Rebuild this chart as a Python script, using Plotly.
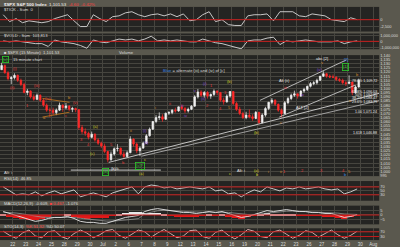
import plotly.graph_objects as go
from plotly.subplots import make_subplots

W, H = 400, 247

# ---------------- data ----------------
day_labels = ["21", "22", "23", "24", "25", "28", "29", "30", "Jul", "2", "6", "7", "8", "9",
              "12", "13", "14", "15", "16", "19", "20", "21", "22", "23", "26", "27", "28", "29",
              "30", "Aug"]

first_open = 1122.8
closes = [
    1128, 1119, 1112, 1113.2,
    1116, 1110, 1105, 1095.3,
    1097, 1090, 1087, 1092,
    1086, 1080, 1074, 1073.7,
    1071, 1074, 1080, 1076.8,
    1079, 1075, 1076, 1074.6,
    1053, 1048, 1046, 1041.2,
    1045, 1038, 1034, 1030.7,
    1024, 1014, 1021, 1027.4,
    1028, 1021, 1018, 1022.6,
    1039, 1033, 1025, 1028.1,
    1034, 1043, 1051, 1060.3,
    1065, 1066, 1063, 1070.3,
    1071, 1074, 1073, 1078,
    1076, 1073, 1075, 1078.8,
    1090, 1096, 1092, 1095.3,
    1091, 1093, 1097, 1095.2,
    1086, 1084, 1091, 1096.5,
    1082, 1075, 1070, 1064.9,
    1068, 1066, 1064, 1071.3,
    1059, 1068, 1076, 1083.5,
    1086, 1081, 1074, 1069.6,
    1083, 1088, 1092, 1093.7,
    1091, 1097, 1099, 1102.7,
    1106, 1107, 1110, 1115,
    1118, 1115, 1114, 1113.8,
    1111, 1110, 1107, 1106.1,
    1108, 1095, 1102, 1110,
]
highs = [
    1131.2, 1129, 1121, 1115,
    1118.5, 1117, 1112, 1107,
    1099.6, 1098, 1093, 1094,
    1093, 1088, 1082, 1077,
    1077, 1076, 1083.1, 1081,
    1082.6, 1080, 1078, 1077,
    1075, 1056, 1052, 1048,
    1048.1, 1046, 1040, 1036,
    1033.6, 1025, 1024, 1029,
    1032.9, 1029, 1024, 1025,
    1042.5, 1040, 1035, 1030,
    1036, 1045, 1053, 1060.9,
    1068, 1071.3, 1069, 1071,
    1073, 1075, 1077, 1078.2,
    1080.8, 1078, 1077, 1080,
    1092, 1099.5, 1098, 1097,
    1097, 1094, 1099.1, 1098,
    1096, 1089, 1093, 1096.9,
    1097, 1084, 1078, 1072,
    1072, 1074.7, 1069, 1073,
    1072, 1070, 1078, 1083.9,
    1088.6, 1087, 1082, 1076,
    1085, 1090, 1094, 1097.5,
    1094, 1098, 1101, 1103.7,
    1108, 1109, 1112, 1115,
    1121, 1119, 1117, 1117,
    1114.7, 1113, 1112, 1109,
    1116, 1108, 1104, 1112,
]
lows = [
    1122.5, 1118, 1110, 1105.5,
    1111, 1108, 1103, 1094.2,
    1092, 1088, 1085.3, 1086,
    1084, 1078, 1072, 1065.6,
    1068, 1067.9, 1073, 1072,
    1075, 1073, 1071.5, 1071.5,
    1050, 1045, 1043, 1038.6,
    1040, 1036, 1032, 1028.3,
    1022, 1010.9, 1013, 1019,
    1024, 1019, 1015.9, 1017,
    1022, 1030, 1022, 1018.4,
    1028, 1033, 1042, 1050,
    1058.2, 1062, 1060, 1062,
    1068, 1069, 1071, 1072,
    1074, 1070.4, 1071, 1074,
    1078, 1088, 1090, 1089,
    1088, 1087.7, 1091, 1092,
    1084, 1080.6, 1083, 1089,
    1080, 1073, 1068, 1063.3,
    1063, 1064, 1061.1, 1063,
    1056.9, 1058, 1066, 1074,
    1081, 1079, 1072, 1065.3,
    1069.6, 1081, 1086, 1090,
    1087.9, 1090, 1095, 1097,
    1101.3, 1104, 1105, 1109,
    1114, 1113, 1112.6, 1112.6,
    1109, 1108, 1105, 1103.1,
    1106, 1092, 1094, 1101,
]

tick_sum = [1800, -700, 400, -1100, -400, -700, -1100, -700, 400, 1100,
            1800, -400, -2500, -2500, 1800, 400, -700, 1100, 1400, 2500,
            2900, 1800, 1100, 1800, 2100, 1400, 2100, 1100, 2100, -400,
            0, 1800, 2900, -700, 0, -1800, -2100, -2100, 1400, 1800,
            1800, 2100, -400, 2900, 2900, 2900, 1400, 1100, 2100, 1800,
            1400, 0, -400, -700, 700, 0]
vold_sum = [0.08, -0.08, 0.08, -0.08, -0.23, -0.38, -0.38, -0.85, 0.23, -0.08,
            -0.23, -0.38, -0.69, -1.15, 0.23, -0.08, -0.23, 0.08, 0.38, 0.23,
            0.38, 0.08, 0.38, 0.85, 0.08, 0.23, 0.08, 0.23, 0.08, -0.08,
            -0.08, 0.38, 0.08, -0.23, -0.38, -0.69, -1.0, -1.25, 0.08, 0.23,
            0.23, 0.54, 0.69, -0.54, 0.08, -0.08, 0.08, 0.23, 0.08, -0.08,
            -0.08, -0.08, 0.08, -0.38, -0.08, 0.08]
rsi = [70, 50, 30, 35, 30, 45, 25, 40, 50, 35,
       45, 55, 20, 30, 40, 30, 20, 40, 50, 60,
       70, 35, 70, 80, 75, 65, 70, 60, 65, 70,
       65, 60, 70, 50, 55, 35, 40, 20, 40, 55,
       45, 70, 60, 50, 65, 60, 70, 60, 65, 70,
       60, 55, 60, 35, 45, 60]
macd = [3.7, 1.6, -0.5, -2.6, -4.7, -6.8, -5.8, -3.7, -2.6, -2.6,
        -1.6, -3.7, -6.8, -7.9, -7.9, -8.9, -8.9, -6.8, -4.7, -2.6,
        -1.6, -0.5, 3.7, 5.8, 6.8, 5.8, 4.7, 3.7, 2.6, 2.6,
        1.6, 2.6, 3.7, 2.6, 3.7, 1.6, -0.5, -2.6, -1.6, 0.5,
        2.6, 4.7, 3.7, 4.7, 5.8, 4.7, 3.7, 3.7, 2.6, 2.6,
        1.6, 1.6, -0.5, -2.6, -1.6, 0.5]
macd_signal = [3.0, 2.8, 2.1, 1.2, 0.0, -1.4, -2.3, -2.6, -2.6, -2.6,
               -2.4, -2.7, -3.5, -4.4, -5.1, -5.9, -6.5, -6.6, -6.2, -5.5,
               -4.7, -3.9, 1.2, 3.0, 4.5, 5.0, 4.9, 4.5, 3.9, 3.5,
               3.0, 2.9, 3.1, 3.0, 3.2, 2.8, 2.0, 1.1, 0.6, 0.6,
               1.3, 2.4, 2.8, 3.4, 4.0, 4.2, 3.9, 3.8, 3.3, 3.2,
               2.9, 2.6, 2.0, 1.1, 0.6, 0.6]
stoch = [75, 40, 15, 60, 85, 35, 20, 70, 80, 30,
         10, 55, 85, 60, 20, 45, 80, 90, 40, 15,
         50, 85, 70, 25, 60, 90, 55, 20, 35, 80,
         85, 30, 15, 65, 85, 40, 10, 45, 90, 75,
         30, 20, 70, 85, 50, 15, 40, 80, 65, 25,
         55, 85, 45, 15, 40, 75]

# trendlines drawn on the price panel: (day0, price0, day1, price1, colour)
trendlines = [
    (8.45, 1010.9, 29.46, 1094.3, "#e8e8e8"),
    (11.0, 1018.4, 29.46, 1085.5, "#bdbdbd"),
    (20.2, 1085.8, 26.9, 1134.5, "#d8d8d8"),
    (21.7, 1065.6, 27.6, 1104.2, "#d8d8d8"),
    (5.5, 1001.6, 12.5, 1001.6, "#f0f0f0"),
    (3.3, 1088.1, 5.4, 1083.4, "#c87a1e"),
    (3.3, 1065.6, 5.4, 1071.5, "#c87a1e"),
]

# wave-count labels: (day, price, text, colour)
RED, ORG, PUR, YEL, GRN, BLU, WHT = "#e03a3a", "#d8862a", "#8a4ad0", "#d0c828", "#2cc82c", "#3a86e0", "#e6e6e6"
wave_labels = [
    (1.15, 1123.8, "(i)", RED), (1.0, 1101.2, "(ii)", RED), (2.85, 1103.6, "(iii)", RED),
    (3.7, 1088.1, "(iv)", RED), (2.15, 1079.8, "1", RED), (3.45, 1065.6, "a", ORG),
    (5.4, 1089.3, "b", ORG), (5.9, 1083.4, "(v)", RED), (5.15, 1068.0, "c", RED),
    (12.1, 1077.4, "i", ORG), (13.2, 1082.2, "ii", RED), (14.2, 1079.8, "iii", PUR),
    (14.4, 1068.0, "iv", PUR), (15.15, 1097.6, "v", PUR), (15.9, 1106.0, "(i)", PUR),
    (16.4, 1103.6, "1", RED), (17.9, 1108.3, "(b)", YEL), (17.5, 1095.3, "3", RED),
    (15.8, 1088.1, "(ii)", PUR), (16.15, 1079.8, "2", RED), (17.15, 1076.3, "4", RED),
    (17.85, 1077.4, "5", ORG), (22.15, 1101.2, "iii", RED), (23.5, 1092.9, "iv", PUR),
    (22.1, 1109.5, "Alt (ii)", WHT), (25.0, 1136.0, "abc [2]", WHT), (25.0, 1130.9, "v", ORG),
    (24.85, 1122.6, "(v)", PUR), (26.9, 1135.0, "[2]", BLU), (27.8, 1116.8, "b", ORG),
    (27.2, 1085.8, "a", ORG), (23.5, 1077.5, "ALT [2]", WHT), (21.8, 1059.6, "c", ORG),
    (6.3, 1038.3, "3", RED), (6.9, 1032.3, "4", RED), (7.45, 1053.7, "(a)", YEL),
    (7.15, 1021.6, "(c)", YEL), (8.7, 1032.3, "5", RED), (9.6, 1010.9, "b", RED),
    (10.15, 1048.9, "ii", ORG), (11.3, 1048.9, "(i)", PUR), (11.4, 1034.7, "(ii)", PUR),
    (11.3, 1013.8, "c", YEL), (8.9, 1003.8, "(b)/c", WHT), (11.0, 997.9, "(a)", YEL),
    (17.9, 997.9, "c", YEL), (18.7, 1001.4, "Alt: i", WHT), (20.0, 1001.4, "(a)", YEL),
    (20.0, 996.7, "b", YEL), (20.9, 1000.3, "i", ORG), (21.8, 1000.3, "ii", ORG),
    (22.1, 1000.3, "1", RED), (23.5, 1001.4, "2", RED), (25.0, 1001.4, "3", RED),
    (26.7, 1001.4, "4", RED), (27.15, 1000.3, "5", ORG), (26.85, 996.7, "b", BLU),
    (20.0, 1046.6, "(b)", YEL),
]
boxed_labels = [  # green boxed wave degrees: (day, price, text)
    (8.2, 999.5, "[b]"), (10.9, 1006.2, "[c]?"), (26.85, 1126.1, "[1]"),
]
fib_labels = [
    (1109.5, "78.6% 1,109.72"), (1095.3, "61.8% 1,096.03"), (1091.7, "50% 1,092.25"),
    (1088.2, "38.2% 1,088.47"), (1083.4, "23.6% 1,083.79"), (1071.5, "1.00 1,071.24"),
    (1046.6, "1.618 1,046.88"),
]

# ---------------- layout helpers ----------------
bar_x = [i * 0.25 + 0.125 for i in range(len(closes))]
opens = [first_open] + closes[:-1]
osc_x = [i * 0.5 + 0.25 for i in range(len(rsi))]
hist = [round(m - s, 2) for m, s in zip(macd, macd_signal)]

PAPER = "#5a584e"
PLOT = "#242422"
GRID = "#46453f"
REDLINE = "#c41a1a"
LBL = "#dcdcdc"
FONT = "Liberation Sans"

fig = make_subplots(rows=6, cols=1, shared_xaxes=True)

fig.add_trace(go.Scatter(x=osc_x, y=tick_sum, mode="lines",
                         line=dict(color="#d8d8d8", width=0.9)), row=1, col=1)
fig.add_trace(go.Scatter(x=osc_x, y=vold_sum, mode="lines",
                         line=dict(color="#d8d8d8", width=0.9)), row=2, col=1)
fig.add_trace(go.Candlestick(x=bar_x, open=opens, high=highs, low=lows, close=closes,
                             increasing=dict(line=dict(color="#f2f2f2", width=0.7), fillcolor="#f2f2f2"),
                             decreasing=dict(line=dict(color="#ff2a2a", width=0.7), fillcolor="#ff2a2a"),
                             whiskerwidth=0), row=3, col=1)
fig.add_trace(go.Scatter(x=osc_x, y=rsi, mode="lines",
                         line=dict(color="#d8d8d8", width=0.9)), row=4, col=1)
fig.add_trace(go.Bar(x=osc_x, y=hist, width=0.5,
                     marker=dict(color=["#e01818" if h < 0 else "#e8e8e8" for h in hist], line_width=0)),
              row=5, col=1)
fig.add_trace(go.Scatter(x=osc_x, y=macd_signal, mode="lines",
                         line=dict(color="#a0a0a0", width=0.7)), row=5, col=1)
fig.add_trace(go.Scatter(x=osc_x, y=macd, mode="lines",
                         line=dict(color="#e8e8e8", width=0.9)), row=5, col=1)
fig.add_trace(go.Scatter(x=osc_x, y=stoch, mode="lines",
                         line=dict(color="#e6b8b8", width=0.9)), row=6, col=1)

# reference levels
fig.add_hline(y=0, row=1, col=1, line=dict(color=REDLINE, width=1))
fig.add_hline(y=0, row=2, col=1, line=dict(color=REDLINE, width=1))
for lv in (70, 30):
    fig.add_hline(y=lv, row=4, col=1, line=dict(color=REDLINE, width=1))
fig.add_hline(y=0, row=5, col=1, line=dict(color=REDLINE, width=1))
for lv in (70, 30):
    fig.add_hline(y=lv, row=6, col=1, line=dict(color=REDLINE, width=1))

for d0, p0, d1, p1, c in trendlines:
    fig.add_shape(type="line", x0=d0, y0=p0, x1=d1, y1=p1, xref="x3", yref="y3",
                  line=dict(color=c, width=0.8))

for d, p, t, c in wave_labels:
    fig.add_annotation(x=d, y=p, xref="x3", yref="y3", text=t, showarrow=False,
                       font=dict(size=4, color=c, family=FONT))
for d, p, t in boxed_labels:
    fig.add_annotation(x=d, y=p, xref="x3", yref="y3", text=t, showarrow=False,
                       font=dict(size=4, color=GRN, family=FONT),
                       bordercolor=GRN, borderwidth=0.8, borderpad=0.5)
for p, t in fib_labels:
    fig.add_annotation(x=29.44, y=p, xref="x3", yref="y3", text=t, showarrow=False,
                       xanchor="right", font=dict(size=3.6, color="#e8e8e8", family=FONT))

# panel headers (pixel positions)
def pa(xp, yp, text, size=4.2, color=LBL, **kw):
    fig.add_annotation(x=xp / W, y=1 - yp / H, xref="paper", yref="paper", text=text,
                       showarrow=False, xanchor="left", yanchor="middle",
                       font=dict(size=size, color=color, family=FONT), **kw)

pa(2, 2.6, "<b>$SPX S&P 500 Index</b>  1,101.53  <span style='color:#ff4040'>-4.60  -0.42%</span>",
   size=4.4, color="#f0f0f0")
pa(2, 7.5, "$TICK - Sum  0")
pa(2, 34.5, "$VOLD - Sum  103,813")
pa(2, 51.2, "■ $SPX (15 Minute)  1,101.53")
pa(118, 51.2, "Volume")
pa(2, 58.5, "[c]", color=GRN, bordercolor=GRN, borderwidth=0.8, borderpad=0.3)
pa(11, 58.5, "15 minute chart")
pa(163, 70, "<span style='color:#3a86e0'>Blue</span> = alternate (iii) and (iv) of [c]")
pa(2, 173, "Alt: i")
pa(2, 179.5, "RSI(14)  46.85")
pa(2, 204.5, "MACD(12,26,9)  -0.609, <span style='color:#ff4040'>■ 0.467</span>, -1.076")
pa(2, 228, "STO(14,3)  <span style='color:#ff4040'>%K 51.32</span>  %D 50.07")

domains = {1: (5, 30), 2: (32, 48), 3: (54, 177), 4: (182, 202), 5: (207, 226), 6: (230, 242)}
yranges = {1: [-4300, 4650], 2: [-1.31, 1.31], 3: [994.3, 1140.4], 4: [0, 100], 5: [-10, 10], 6: [0, 100]}
ytick = {
    1: dict(tickvals=[0, -2500], ticktext=["0", "-2,500"]),
    2: dict(tickvals=[1, 0, -1], ticktext=["1,000,000", "0", "-1,000,000"]),
    3: dict(tick0=1000, dtick=5, tickformat=",d"),
    4: dict(tickvals=[30, 50, 70]),
    5: dict(tickvals=[-5, 0, 5]),
    6: dict(tickvals=[30, 70]),
}
lay = {}
for r in range(1, 7):
    t, b = domains[r]
    lay[f"yaxis{r}"] = dict(domain=[1 - b / H, 1 - t / H], range=yranges[r], side="right",
                            showgrid=True, gridcolor=GRID, gridwidth=1, zeroline=False,
                            ticks="", tickfont=dict(size=4, color=LBL, family=FONT),
                            fixedrange=True, **ytick[r])
    lay[f"xaxis{r}"] = dict(domain=[0, 383 / W], range=[0, 383 / 13],
                            tickvals=list(range(len(day_labels))), ticktext=day_labels,
                            showgrid=True, gridcolor=GRID, gridwidth=1, zeroline=False,
                            ticks="", showticklabels=(r == 6), tickangle=0,
                            tickfont=dict(size=4.5, color=LBL, family=FONT),
                            rangeslider=dict(visible=False), showline=False)

fig.update_layout(width=W, height=H, margin=dict(l=0, r=0, t=0, b=0),
                  paper_bgcolor=PAPER, plot_bgcolor=PLOT, showlegend=False,
                  bargap=0, font=dict(family=FONT, color=LBL), **lay)

fig.write_html("out.html")
